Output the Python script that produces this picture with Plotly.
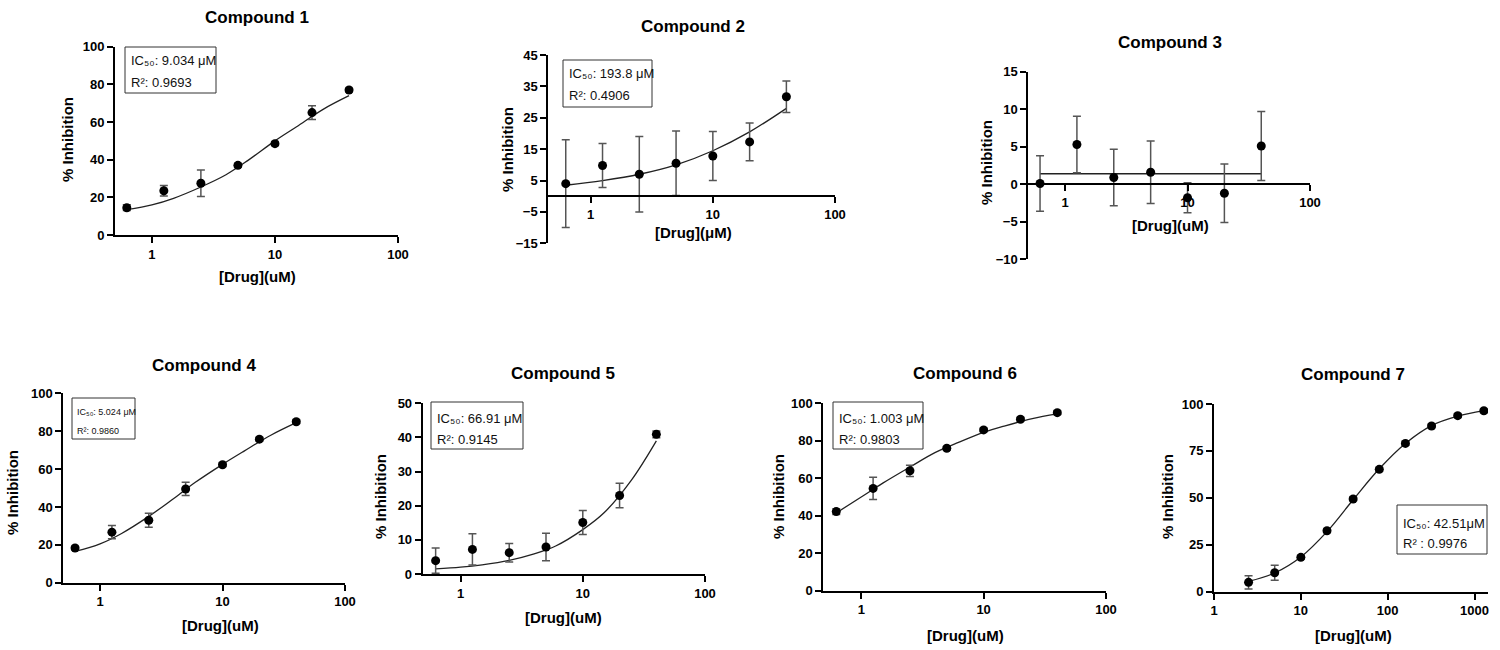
import plotly.graph_objects as go

W, H = 1500, 650

# ---------------- data ----------------
conc7 = [0.625, 1.25, 2.5, 5, 10, 20, 40]
conc10 = [2.5, 5, 10, 20, 40, 80, 160, 320, 640, 1280]

c1_y = [14.5, 23.5, 27.5, 37, 48.5, 65, 77]
c1_err = [1.5, 2.8, 7, 1, 1, 3.7, 1]
c1_fit_x = [0.625, 1, 1.5, 2.5, 4, 6, 10, 15, 25, 40]
c1_fit_y = [13.5, 16, 19.5, 25.5, 32, 39.5, 50, 57.5, 67, 74]

c2_y = [4, 9.8, 7, 10.5, 12.8, 17.3, 31.7]
c2_err = [14, 7, 12, 10.3, 7.8, 6, 5]
c2_fit_x = [0.625, 1.25, 2.5, 5, 10, 20, 40]
c2_fit_y = [3.5, 5, 7, 10, 14.5, 20.5, 28]

c3_y = [0.1, 5.3, 0.9, 1.6, -1.8, -1.2, 5.1]
c3_err = [3.7, 3.75, 3.75, 4.15, 2, 3.9, 4.6]
c3_fit_x = [0.625, 40]
c3_fit_y = [1.4, 1.4]

c4_y = [18.3, 26.7, 33, 49.5, 62.3, 75.8, 85]
c4_err = [1, 3.5, 3.7, 3.5, 1, 1, 1]
c4_fit_x = [0.625, 1, 1.5, 2.5, 4, 6, 10, 15, 25, 40]
c4_fit_y = [16.5, 20.5, 26, 35, 44.5, 53, 62.5, 69.5, 78, 84.5]

c5_y = [3.9, 7.2, 6.25, 7.9, 15.1, 23, 40.9]
c5_err = [3.7, 4.6, 2.7, 4, 3.5, 3.6, 1]
c5_fit_x = [0.625, 1, 1.5, 2.5, 4, 6, 10, 15, 25, 40]
c5_fit_y = [1.5, 2, 2.7, 4, 5.9, 8.2, 13, 18, 27.5, 39]

c6_y = [42.2, 54.6, 64, 76, 85.8, 91.5, 95]
c6_err = [1.5, 6, 3, 1, 1, 1, 1]
c6_fit_x = [0.625, 1, 1.5, 2.5, 4, 6, 10, 15, 25, 40]
c6_fit_y = [41.5, 50, 57.4, 66, 73.7, 78.7, 84.5, 88, 91.8, 94.3]

c7_y = [5, 10.1, 18.3, 32.5, 49.4, 65.2, 79, 88.3, 93.8, 96.4]
c7_err = [3.5, 4, 1, 1, 1, 1, 1, 1, 1, 1]
c7_fit_x = [2.5, 5, 10, 20, 40, 80, 160, 320, 640, 1280]
c7_fit_y = [5.5, 10, 18.5, 32, 49, 65.5, 79, 88.5, 93.5, 96.5]

titles = ["Compound 1", "Compound 2", "Compound 3", "Compound 4",
          "Compound 5", "Compound 6", "Compound 7"]
xtitles = ["[Drug](uM)", "[Drug](μM)", "[Drug](uM)", "[Drug](uM)",
           "[Drug](uM)", "[Drug](uM)", "[Drug](uM)"]
ic50_text = ["IC₅₀: 9.034 μM", "IC₅₀: 193.8 μM", None,
             "IC₅₀: 5.024 μM", "IC₅₀: 66.91 μM",
             "IC₅₀: 1.003 μM", "IC₅₀: 42.51μM"]
r2_text = ["R²: 0.9693", "R²: 0.4906", None,
           "R²: 0.9860", "R²: 0.9145",
           "R²: 0.9803", "R² : 0.9976"]
yticks = [
    [0, 20, 40, 60, 80, 100],
    [-15, -5, 5, 15, 25, 35, 45],
    [-10, -5, 0, 5, 10, 15],
    [0, 20, 40, 60, 80, 100],
    [0, 10, 20, 30, 40, 50],
    [0, 20, 40, 60, 80, 100],
    [0, 25, 50, 75, 100],
]
yranges = [[0, 100], [-15, 45], [-10, 15], [0, 100], [0, 50], [0, 100], [0, 100]]
xticks3 = [1, 10, 100]
xticks4 = [1, 10, 100, 1000]

series = [
    (conc7, c1_y, c1_err, c1_fit_x, c1_fit_y),
    (conc7, c2_y, c2_err, c2_fit_x, c2_fit_y),
    (conc7, c3_y, c3_err, c3_fit_x, c3_fit_y),
    (conc7, c4_y, c4_err, c4_fit_x, c4_fit_y),
    (conc7, c5_y, c5_err, c5_fit_x, c5_fit_y),
    (conc7, c6_y, c6_err, c6_fit_x, c6_fit_y),
    (conc10, c7_y, c7_err, c7_fit_x, c7_fit_y),
]

# ---------------- layout (pixel geometry) ----------------
boxes = [
    (115, 398, 46.7, 235),
    (548.3, 835, 55, 243.3),
    (1028.3, 1310, 71.7, 259.3),
    (63.3, 345, 393.3, 582.7),
    (422.7, 705, 403.3, 574),
    (823.3, 1106, 403.3, 590.7),
    (1214, 1488, 404, 591.7),
]
xranges = [[-0.3, 2], [-0.347, 2], [-0.3, 2], [-0.3, 2], [-0.31, 2], [-0.31, 2], [0, 3.155]]
title_pos = [(257, 17), (693, 27), (1170, 42), (204, 366), (563, 373), (965, 373), (1353, 375)]
xtitle_pos = [(257, 277), (693, 233), (1170, 225), (220, 625), (563, 617), (965, 635), (1353, 635)]
ytitle_pos = [(67, 140), (507, 150), (987, 163), (13, 493), (380, 497), (778, 497), (1167, 497)]
# stats box: (x0, y0, x1, y1, text_x, line1_y, line2_y, font size)
stat_box = [
    (125, 47, 216, 93, 129, 61, 82, 13),
    (563, 60, 652, 107, 567, 73.5, 96, 13),
    None,
    (72, 398, 135, 439, 74.5, 411.5, 430.5, 9),
    (431, 402, 523, 449, 434.5, 418.5, 439.5, 13),
    (833, 402, 923, 449, 837, 418.5, 439.5, 13),
    (1397, 505, 1487, 554, 1401, 523.5, 543.5, 13),
]

FONT = "Liberation Sans, Arial, sans-serif"


def px(x):
    return x / W


def py(y):
    return 1 - y / H


fig = go.Figure()
layout = dict(
    width=W, height=H, margin=dict(l=0, r=0, t=0, b=0, pad=0, autoexpand=False),
    paper_bgcolor="white", plot_bgcolor="white", showlegend=False,
    font=dict(family=FONT, color="black"),
)
annotations = []
shapes = []

for i, (xs, ys, es, fx, fy) in enumerate(series):
    n = i + 1
    xa = "x" if n == 1 else f"x{n}"
    ya = "y" if n == 1 else f"y{n}"
    fig.add_trace(go.Scatter(
        x=fx, y=fy, mode="lines", line=dict(color="#222", width=1.3, shape="spline"),
        xaxis=xa, yaxis=ya, hoverinfo="skip"))
    fig.add_trace(go.Scatter(
        x=xs, y=ys, mode="markers",
        marker=dict(color="black", size=9),
        error_y=dict(type="data", array=es, visible=True, color="#555", thickness=1.5, width=4),
        xaxis=xa, yaxis=ya))

    l, r, t, b = boxes[i]
    ymin, ymax = yranges[i]
    xdom = [px(l), px(r)]
    ydom = [py(b), py(t)]
    xkey = "xaxis" if n == 1 else f"xaxis{n}"
    ykey = "yaxis" if n == 1 else f"yaxis{n}"
    tv = xticks4 if n == 7 else xticks3
    xaxis = dict(
        type="log", domain=xdom, range=xranges[i],
        tickvals=tv, ticktext=[str(v) for v in tv],
        showline=True, linecolor="black", linewidth=2,
        ticks="outside", ticklen=6, tickwidth=2, tickcolor="black",
        showgrid=False, zeroline=False, automargin=False,
        tickfont=dict(family=FONT, size=13, color="black", weight="bold"),
        anchor=ya, fixedrange=True,
    )
    if ymin < 0:
        y0px = t + (ymax - 0) / (ymax - ymin) * (b - t)
        xaxis.update(anchor="free", position=py(y0px))
    yaxis = dict(
        domain=ydom, range=[ymin, ymax], tickvals=yticks[i],
        showline=True, linecolor="black", linewidth=2,
        ticks="outside", ticklen=6, tickwidth=2, tickcolor="black",
        showgrid=False, zeroline=False, automargin=False,
        tickfont=dict(family=FONT, size=13, color="black", weight="bold"),
        anchor=xa, fixedrange=True,
    )
    layout[xkey] = xaxis
    layout[ykey] = yaxis

    tx, ty = title_pos[i]
    annotations.append(dict(
        x=px(tx), y=py(ty), xref="paper", yref="paper", text=titles[i],
        showarrow=False, xanchor="center", yanchor="middle",
        font=dict(family=FONT, size=17, color="black", weight="bold")))
    tx, ty = xtitle_pos[i]
    annotations.append(dict(
        x=px(tx), y=py(ty), xref="paper", yref="paper", text=xtitles[i],
        showarrow=False, xanchor="center", yanchor="middle",
        font=dict(family=FONT, size=15, color="black", weight="bold")))
    tx, ty = ytitle_pos[i]
    annotations.append(dict(
        x=px(tx), y=py(ty), xref="paper", yref="paper", text="% Inhibition",
        showarrow=False, xanchor="center", yanchor="middle", textangle=-90,
        font=dict(family=FONT, size=15, color="black", weight="bold")))
    sb = stat_box[i]
    if sb is not None:
        x0, y0, x1, y1, txx, l1, l2, fs = sb
        shapes.append(dict(
            type="rect", xref="paper", yref="paper",
            x0=px(x0), x1=px(x1), y0=py(y1), y1=py(y0),
            line=dict(color="#333", width=1), fillcolor="white", layer="above"))
        for txt, ly in ((ic50_text[i], l1), (r2_text[i], l2)):
            annotations.append(dict(
                x=px(txx), y=py(ly), xref="paper", yref="paper", text=txt,
                showarrow=False, xanchor="left", yanchor="middle", align="left",
                font=dict(family=FONT, size=fs, color="#111")))

layout["annotations"] = annotations
layout["shapes"] = shapes
fig.update_layout(**layout)

post = (
    "document.documentElement.style.margin='0';"
    "document.documentElement.style.overflow='hidden';"
    "document.body.style.margin='0';document.body.style.padding='0';"
    "document.body.style.overflow='hidden';"
    "var d=document.getElementById('{plot_id}');"
    "d.parentElement.style.height='650px';d.parentElement.style.width='1500px';"
    "d.parentElement.style.overflow='hidden';"
)
fig.write_html("out.html", config={"displayModeBar": False}, post_script=post)
